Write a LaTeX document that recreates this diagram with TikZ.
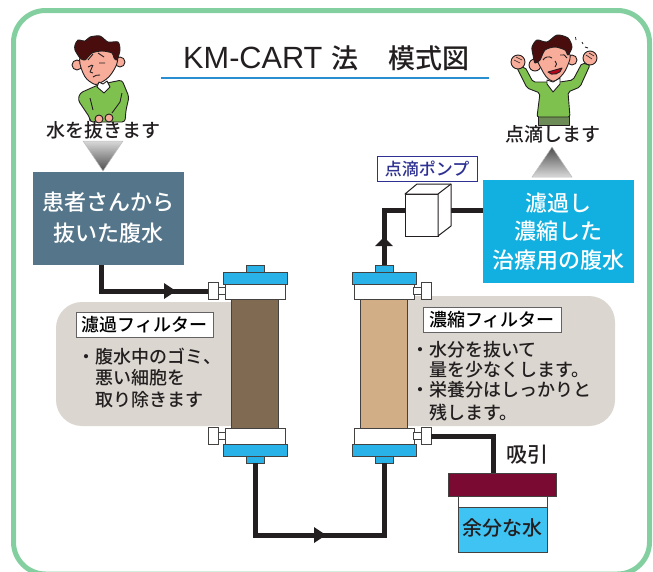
\documentclass[tikz,border=0pt]{standalone}
\usepackage{fontspec}
\setmainfont{Noto Sans CJK JP Medium}
\newfontfamily\titlelatin{Liberation Sans}
\usetikzlibrary{shapes.geometric, positioning}

\definecolor{framegreen}{HTML}{84CFA0}
\definecolor{titleblue}{HTML}{2A8FD0}
\definecolor{slate}{HTML}{55768A}
\definecolor{skyblue}{HTML}{12B0E0}
\definecolor{capblue}{HTML}{29B2E8}
\definecolor{panelgray}{HTML}{DBD7D0}
\definecolor{inkblack}{HTML}{231F20}
\definecolor{pumpnavy}{HTML}{2E3192}
\definecolor{browncore}{HTML}{806B52}
\definecolor{sandcore}{HTML}{D2AE86}
\definecolor{lidred}{HTML}{7B0A33}
\definecolor{waterblue}{HTML}{3FC3F3}
\definecolor{sweater}{HTML}{7FC14F}
\definecolor{skin}{HTML}{F8AD9A}
\definecolor{hair}{HTML}{4A0D0D}
\definecolor{pants}{HTML}{6D8B56}

\newcommand{\fs}[1]{\fontsize{#1}{#1}\selectfont}

\tikzset{
    part/.style={draw=inkblack!85, line width=0.8pt, rectangle, inner sep=0pt, outer sep=0pt},
    pipe/.style={draw=inkblack, line width=5pt, line join=miter},
    bigbox/.style={rectangle, inner sep=0pt, outer sep=0pt},
    boxtext/.style={text=white, font=\fs{22}},
    tagbox/.style={rectangle, draw=inkblack!70, fill=white, line width=0.9pt, inner sep=0pt, minimum height=25pt, font=\fs{18}},
    note/.style={inner sep=0pt, anchor=west, text=inkblack, font=\fs{18}},
    outline/.style={draw=inkblack, line width=0.9pt, line join=round},
}

\begin{document}
\begin{tikzpicture}[x=1pt, y=-1pt]
    \useasboundingbox (0, 0) rectangle (653, 571);

    % frame and title
    \draw[framegreen, line width=5pt, rounded corners=32pt] (13.5, 10.5) rectangle (649.5, 574);
    \node[inner sep=0pt, anchor=west, text=inkblack, font=\fs{27}] (title) at (183, 58) {{\titlelatin\fs{30.7}KM-CART}\hspace{9pt}法\hspace{30pt}模式図};
    \coordinate (ruleL) at (161, 78);
    \coordinate (ruleR) at (489, 78);
    \draw[titleblue, line width=2.5pt] (ruleL) to (ruleR);

    % grey panels, their inner ends stay hidden under the filters
    \fill[panelgray, rounded corners=26pt] (56, 302) rectangle (255, 426);
    \fill[panelgray, rounded corners=26pt] (384, 296) rectangle (615, 426);

    % both filters
    \foreach \n/\x/\c in {L/255/browncore, R/384/sandcore} {
        \node[part, fill=\c, minimum width=47pt, minimum height=130pt] (core\n) at (\x, 363.5) {};
        \node[part, fill=white, minimum width=60pt, minimum height=16pt] (collarT\n) at (\x, 291) {};
        \node[part, fill=white, minimum width=60pt, minimum height=16pt] (collarB\n) at (\x, 436) {};
        \node[part, fill=capblue, minimum width=64pt, minimum height=12pt] (capT\n) at (\x, 278) {};
        \node[part, fill=capblue, minimum width=64pt, minimum height=12pt] (capB\n) at (\x, 450) {};
        \node[part, fill=capblue, minimum width=18pt, minimum height=7pt] (tipT\n) at (\x, 268.5) {};
        \node[part, fill=capblue, minimum width=18pt, minimum height=7pt] (tipB\n) at (\x, 459.5) {};
    }
    \foreach \n/\xc/\xk/\y in {TL/221/213/291, BL/221/213/436, TR/417/426/291, BR/417/426/436} {
        \node[part, fill=white, minimum width=8pt, minimum height=7pt] (stem\n) at (\xc, \y) {};
        \node[part, fill=white, minimum width=10pt, minimum height=17pt] (knob\n) at (\xk, \y) {};
    }

    % source and treated fluid boxes
    \node[bigbox, fill=slate, minimum width=151pt, minimum height=93pt] (patient) at (108.5, 218.5) {};
    \node[boxtext] (patientA) at (108.5, 202) {患者さんから};
    \node[boxtext] (patientB) at (108.5, 233) {抜いた腹水};
    \node[bigbox, fill=skyblue, minimum width=151pt, minimum height=103pt] (treated) at (558.5, 231.5) {};
    \node[boxtext] (treatedA) at (558.5, 203) {濾過し};
    \node[boxtext] (treatedB) at (558.5, 231) {濃縮した};
    \node[boxtext] (treatedC) at (558.5, 260) {治療用の腹水};

    % tubing
    \draw[pipe] ([xshift=-7.5pt]patient.south) |- (knobTL.west);
    \fill[inkblack] (164, 283) -- (176, 291) -- (164, 299) -- cycle;
    \draw[pipe] (tipBL.south) |- (320, 535) -| (tipBR.south);
    \fill[inkblack] (314, 527) -- (326, 535) -- (314, 543) -- cycle;
    \draw[pipe] (tipTR.north) |- (405, 210);
    \fill[inkblack] (375, 246) -- (384, 237) -- (393, 246) -- cycle;
    \draw[pipe] (treated.west |- 0, 210) -- (445, 210);
    \draw[pipe] (knobBR.east) -| (493, 473);

    % drip pump
    \node[part, fill=white, draw=inkblack, line width=1pt, minimum width=33pt, minimum height=42pt] (pump) at (421.5, 215) {};
    \draw[inkblack, line width=1pt, fill=white, line join=round] (pump.north west) -- (417, 184) -- (451, 184) -- (451, 226) -- (pump.south east) -- (pump.north east) -- cycle;
    \draw[inkblack, line width=1pt] (pump.north east) -- (451, 184);
    \node[rectangle, draw=pumpnavy, fill=white, line width=0.9pt, text=pumpnavy, inner sep=0pt, minimum width=100pt, minimum height=25pt, font=\fs{17}] (pumptag) at (427, 168.5) {点滴ポンプ};

    % waste tank
    \node[part, fill=white, minimum width=89pt, minimum height=56pt] (tank) at (502.5, 524) {};
    \node[part, fill=waterblue, minimum width=89pt, minimum height=45pt] (water) at (502.5, 529.5) {};
    \node[part, fill=lidred, minimum width=108pt, minimum height=23pt] (lid) at (502, 484.5) {};
    \node[text=inkblack, font=\fs{20}] (waterlabel) at (502.5, 528) {余分な水};
    \node[text=inkblack, font=\fs{21}] (suction) at (527, 455) {吸引};

    % labels and notes on the panels
    \node[tagbox, minimum width=137pt] (tagL) at (144.5, 324.5) {濾過フィルター};
    \node[tagbox, minimum width=138pt] (tagR) at (492, 319.5) {濃縮フィルター};
    \node[note] (noteL1) at (77, 357) {・腹水中のゴミ、};
    \node[note] (noteL2) at (95, 378) {悪い細胞を};
    \node[note] (noteL3) at (95, 400) {取り除きます};
    \node[note] (noteR1) at (411, 350) {・水分を抜いて};
    \node[note] (noteR2) at (429, 370) {量を少なくします。};
    \node[note] (noteR3) at (411, 390) {・栄養分はしっかりと};
    \node[note] (noteR4) at (429, 413) {残します。};

    % gradient triangles
    \shade[top color=white!85!black, bottom color=black!70, draw=black!25, line width=0.5pt] (83, 141) -- (123, 141) -- (103, 171) -- cycle;
    \shade[top color=black!70, bottom color=white!85!black, draw=black!25, line width=0.5pt] (532, 177) -- (572, 177) -- (552, 147) -- cycle;

    % person on the left, holding his belly
    \draw[outline, fill=sweater, rounded corners=3pt] (98, 85) -- (80, 93) -- (78, 100) -- (90, 118) -- (90, 122) -- (125, 122) -- (126, 110) -- (129, 97) -- (122, 80) -- (107, 83) -- cycle;
    \draw[outline] (90, 98) -- (93, 110) (122, 93) -- (120, 102) -- (112, 113);
    \draw[outline, fill=skin] (99, 119) circle (4pt) (109, 118) circle (4pt);
    \draw[outline, fill=skin] (77, 65) circle (5pt) (120, 62) circle (5pt);
    \draw[outline, fill=skin] plot[smooth cycle, tension=0.7] coordinates {(81, 55) (83, 73) (92, 83) (100, 83) (112, 73) (117, 56) (100, 45)};
    \draw[outline, fill=white] (99, 82) -- (97, 87) -- (104, 93) -- (110, 87) -- (107, 81) -- (103, 84) -- cycle;
    \draw[outline, fill=hair] plot[smooth cycle, tension=0.45] coordinates {(75, 45) (78, 40) (85, 41) (90, 37) (100, 36) (108, 42) (118, 42) (120, 50) (117, 60) (114, 58) (112, 53) (102, 51) (92, 53) (85, 60) (80, 58) (75, 50)};
    \draw[outline] (88, 60) -- (93, 54) (98, 53) -- (104, 57) (88, 67) -- (92, 65) (99, 63) -- (105, 63) (93, 65) -- (90, 72) -- (93, 73) (93, 77) to[bend left=20] (100, 75);

    % person on the right, arms raised
    \draw[outline, fill=pants] (538, 115) rectangle (569, 125);
    \draw[outline, fill=sweater, rounded corners=2pt] (547, 82) -- (533, 82) -- (525, 67) -- (517, 68) -- (527, 88) -- (540, 93) -- (537, 117) -- (570, 117) -- (568, 92) -- (580, 87) -- (590, 65) -- (582, 63) -- (573, 80) -- (560, 82) -- cycle;
    \draw[outline, fill=skin] (518, 62) circle (7pt) (590, 58) circle (7pt);
    \draw[outline, line width=0.6pt] (514, 60) -- (520, 63) (516, 57) -- (522, 60) (586, 55) -- (592, 59) (589, 53) -- (594, 56);
    \draw[outline, fill=skin] (535, 65) circle (6pt) (572, 60) circle (5pt);
    \draw[outline, fill=skin] plot[smooth cycle, tension=0.7] coordinates {(538, 56) (542, 70) (550, 80) (558, 79) (567, 67) (569, 52) (552, 43)};
    \draw[outline, fill=white] (547, 80) -- (547, 84) -- (553, 92) -- (560, 84) -- (560, 78) -- (553, 82) -- cycle;
    \draw[outline, fill=hair] plot[smooth cycle, tension=0.45] coordinates {(532, 47) (537, 40) (547, 42) (557, 35) (568, 38) (572, 47) (568, 55) (565, 50) (555, 47) (545, 50) (540, 60) (535, 63) (533, 55)};
    \draw[outline] (543, 60) to[bend left=50] (552, 58) (560, 55) to[bend left=50] (567, 58) (555, 61) to[bend left=60] (555, 67);
    \draw[outline, fill=lidred!55!red] (548, 72) to (562, 68) to[bend left=70] (548, 72) -- cycle;
    \draw[outline, line width=0.8pt] (575.5, 37) -- (576, 40) (582, 42) -- (583, 44) (585, 47) -- (588, 48);

    % captions
    \node[text=inkblack, font=\fs{19}] (capL) at (103, 130) {水を抜きます};
    \node[text=inkblack, font=\fs{19}] (capR) at (553, 134) {点滴します};
\end{tikzpicture}
\end{document}
